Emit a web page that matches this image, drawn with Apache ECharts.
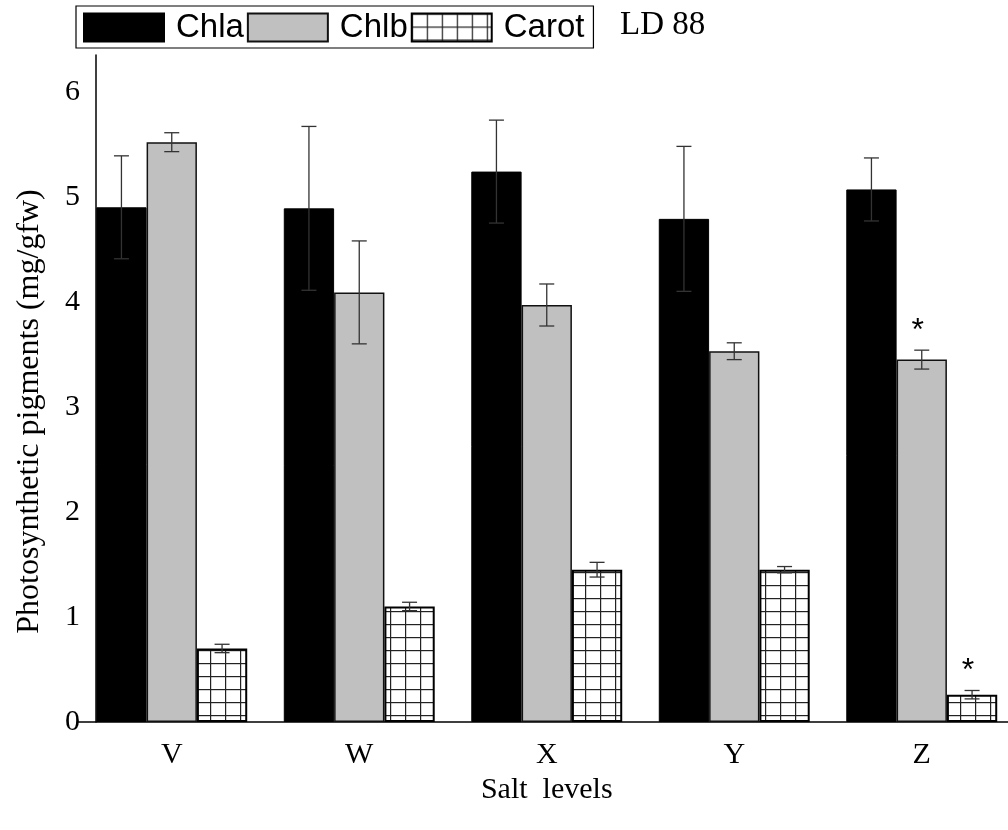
<!DOCTYPE html>
<html>
<head>
<meta charset="utf-8">
<script src="https://cdn.jsdelivr.net/npm/echarts@6/dist/echarts.min.js"></script>
<style>html,body{margin:0;padding:0;background:#fff;}#c{width:1008px;height:830px;}</style>
</head>
<body>
<div id="c"></div>
<script>
// ---- data ----
const categories = ['V', 'W', 'X', 'Y', 'Z'];
const seriesNames = ['Chla', 'Chlb', 'Carot'];
const chla = [4.90, 4.89, 5.24, 4.79, 5.07];
const chlaErr = [0.49, 0.78, 0.49, 0.69, 0.30];
const chlb = [5.52, 4.09, 3.97, 3.53, 3.45];
const chlbErr = [0.09, 0.49, 0.20, 0.08, 0.09];
const carot = [0.70, 1.10, 1.45, 1.45, 0.26];
const carotErr = [0.04, 0.04, 0.07, 0.03, 0.04];
const chlbStars = [0, 0, 0, 0, 1];
const carotStars = [0, 0, 0, 0, 1];
const yTicks = [0, 1, 2, 3, 4, 5, 6];

// ---- pattern for Carot ----
const pat = document.createElement('canvas');
pat.width = 15; pat.height = 13;
const pc = pat.getContext('2d');
pc.fillStyle = '#fff'; pc.fillRect(0, 0, 15, 13);
pc.fillStyle = '#222';
pc.fillRect(0, 0, 15, 1.2);
pc.fillRect(0, 0, 1.2, 13);

const GAP = 0.195;
const values = [chla, chlb, carot];
const errs = [chlaErr, chlbErr, carotErr];
const stars = [[0,0,0,0,0], chlbStars, carotStars];
const errData = [];
for (let s = 0; s < 3; s++) {
  for (let i = 0; i < categories.length; i++) {
    errData.push([i, values[s][i], errs[s][i], s, stars[s][i]]);
  }
}

const chart = echarts.init(document.getElementById('c'), null, {renderer: 'canvas'});
const serif = 'Liberation Serif, Times New Roman, serif';
const sans = 'Liberation Sans, Arial, sans-serif';

chart.setOption({
  animation: false,
  backgroundColor: '#fff',
  grid: {left: 78, top: 55, width: 937.5, bottom: 108, containLabel: false, outerBoundsMode: 'none'},
  legend: {
    data: seriesNames,
    left: 76, top: 6,
    orient: 'horizontal',
    icon: 'rect',
    itemWidth: 80, itemHeight: 28,
    itemGap: 3,
    padding: [5, 9, 4, 7],
    borderColor: '#000', borderWidth: 1.2,
    textStyle: {fontFamily: sans, fontSize: 33, lineHeight: 30, color: '#000', padding: [0, 0, 0, 7]}
  },
  graphic: [{
    type: 'text', left: 620, top: 9,
    style: {text: 'LD 88', font: '33px ' + serif, fill: '#000'}
  }],
  xAxis: {
    type: 'category',
    data: categories,
    name: 'Salt  levels',
    nameLocation: 'middle',
    nameGap: 51,
    nameTextStyle: {fontFamily: serif, fontSize: 30, color: '#000'},
    axisLine: {lineStyle: {color: '#000', width: 1.5}},
    axisTick: {show: false},
    axisLabel: {fontFamily: serif, fontSize: 30, color: '#000', margin: 18}
  },
  yAxis: {
    type: 'value',
    min: 0, max: 6.35, interval: 1,
    offset: -18,
    name: 'Photosynthetic pigments (mg/gfw)',
    nameLocation: 'middle',
    nameGap: 50,
    nameTextStyle: {fontFamily: serif, fontSize: 32, color: '#000', padding: [0, 46, 0, 0]},
    axisLine: {show: true, lineStyle: {color: '#000', width: 1.5}},
    axisTick: {show: false},
    splitLine: {show: false},
    axisLabel: {
      fontFamily: serif, fontSize: 30, color: '#000', margin: 16,
      showMaxLabel: false,
      formatter: function (v) { return yTicks.indexOf(v) >= 0 ? String(v) : ''; }
    }
  },
  series: [
    {name: 'Chla', type: 'bar', data: chla, barGap: '0%', barCategoryGap: (GAP * 100) + '%',
     itemStyle: {color: '#000', borderColor: '#000', borderWidth: 1}},
    {name: 'Chlb', type: 'bar', data: chlb,
     itemStyle: {color: '#c0c0c0', borderColor: '#111', borderWidth: 1.5}},
    {name: 'Carot', type: 'bar', data: carot,
     itemStyle: {color: {image: pat, repeat: 'repeat'}, borderColor: '#000', borderWidth: 2}},
    {
      name: 'err', type: 'custom', z: 10,
      data: errData,
      encode: {x: 0, y: 1},
      renderItem: function (params, api) {
        const cat = api.value(0), val = api.value(1), err = api.value(2), s = api.value(3), star = api.value(4);
        const band = api.size([1, 0])[0];
        const groupW = band * (1 - GAP);
        const bw = groupW / 3;
        const base = api.coord([cat, val]);
        const x = base[0] - groupW / 2 + bw * (s + 0.5);
        const top = api.coord([cat, val + err])[1];
        const bot = api.coord([cat, val - err])[1];
        const cap = 7.5;
        const st = {stroke: '#333', lineWidth: 1.3};
        const children = [
          {type: 'line', shape: {x1: x, y1: top, x2: x, y2: bot}, style: st},
          {type: 'line', shape: {x1: x - cap, y1: top, x2: x + cap, y2: top}, style: st},
          {type: 'line', shape: {x1: x - cap, y1: bot, x2: x + cap, y2: bot}, style: st}
        ];
        if (star) {
          children.push({type: 'text', style: {text: '*', x: x - 4, y: top - 3, font: '32px ' + sans, fill: '#000', align: 'center', verticalAlign: 'bottom'}});
        }
        return {type: 'group', children: children};
      }
    }
  ]
});
</script>
</body>
</html>
